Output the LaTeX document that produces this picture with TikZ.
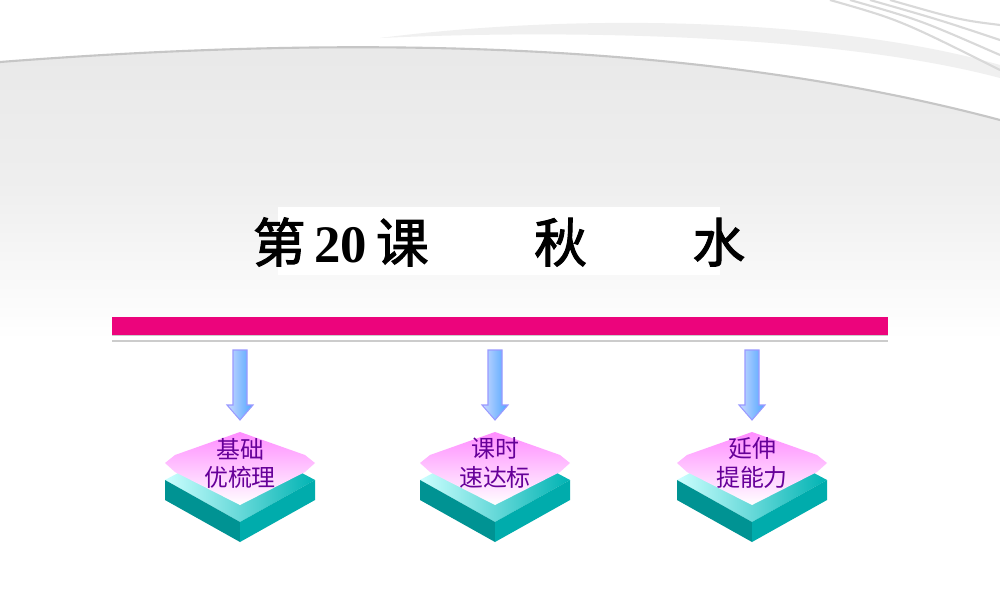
\documentclass[tikz,border=0pt]{standalone}
\usepackage{fontspec}
\newfontfamily\cjk{Noto Sans CJK SC}
\newfontfamily\cjkb{Noto Sans CJK SC}[FakeBold=2]
\newfontfamily\tnr{Liberation Serif}
\begin{document}
\begin{tikzpicture}[x=0.01cm,y=-0.01cm,
  lbl/.style={font=\cjk\fontsize{6.8}{8}\selectfont,text=violet!80!blue,align=center,inner sep=0pt},
  arr/.style={draw=blue!40,left color=cyan!25!blue!20,right color=blue!50!cyan!70,line width=0.3pt}]
\useasboundingbox (0,0) rectangle (1000,600);
\fill[white] (0,0) rectangle (1000,600);
\begin{scope}
\clip (0,62) .. controls (350,35) and (700,40) .. (1000,120) -- (1000,340) -- (0,340) -- cycle;
\shade[top color=gray!18,bottom color=white,middle color=gray!13] (0,30) rectangle (1000,340);
\end{scope}
\draw[gray!45,line width=0.6pt] (0,62) .. controls (350,35) and (700,40) .. (1000,120);
\fill[gray!12] (380,38) .. controls (600,10) and (850,22) .. (1000,65) -- (1000,78) .. controls (850,38) and (600,28) .. (380,38) -- cycle;
\foreach \a in {0,10,20,30} \draw[gray!30,line width=0.6pt] (830+\a*2,0) .. controls (900+\a*2,20) .. (1000,70-\a*1.5);
\fill[white] (278,207) rectangle (720,275);
\node[inner sep=0pt,font=\cjkb\fontsize{15}{17}\selectfont] (title) at (499,242) {第\,{\tnr\bfseries 20}\,课\qquad 秋\qquad 水};
\fill[gray!40] (112,322) rectangle (888,342);
\fill[white] (112,336) rectangle (888,340);
\fill[magenta!85!red] (112,317) rectangle (888,335);
\foreach \cx/\n/\t in {240/a/{基础\\优梳理},495/b/{课时\\速达标},752/c/{延伸\\提能力}}{
  \path[arr] (\cx-7,350) -- (\cx+7,350) -- (\cx+7,405) -- (\cx+13,405) -- (\cx,420) -- (\cx-13,405) -- (\cx-7,405) -- cycle;
  \shade[left color=cyan!20,right color=teal!60!cyan] (\cx-75,480) -- (\cx,440) -- (\cx+75,480) -- (\cx,522) -- cycle;
  \fill[teal!85!cyan] (\cx-75,480) -- (\cx,522) -- (\cx,542) -- (\cx-75,500) -- cycle;
  \fill[teal!65!cyan] (\cx+75,480) -- (\cx,522) -- (\cx,542) -- (\cx+75,500) -- cycle;
  \shade[top color=magenta!45,bottom color=white] (\cx-75,463) -- (\cx-65,455) -- (\cx,432) -- (\cx+65,455) -- (\cx+75,463) -- (\cx+65,472) -- (\cx,505) -- (\cx-65,472) -- cycle;
  \node[lbl] (\n) at (\cx,463) {\t};
}
\end{tikzpicture}
\end{document}
